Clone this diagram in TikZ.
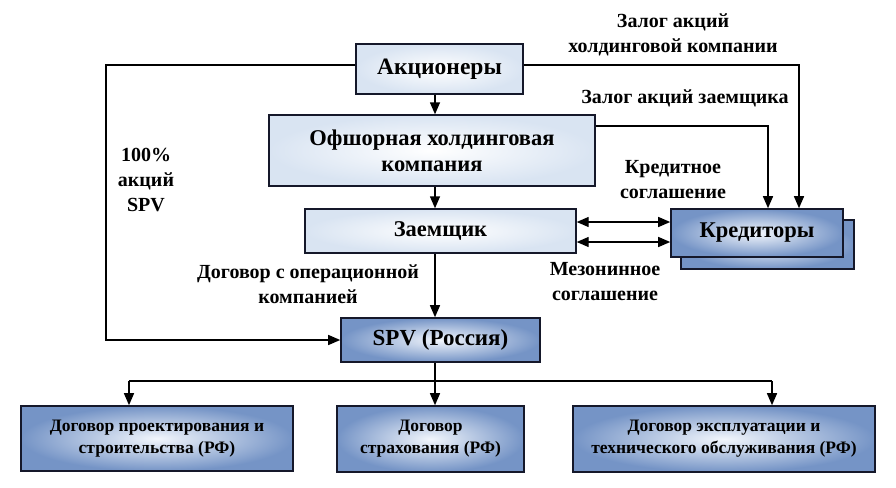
\documentclass[tikz,border=0pt]{standalone}
\usepackage{fontspec}
\setmainfont{Liberation Serif}
\usetikzlibrary{arrows.meta,calc}
\definecolor{bordc}{HTML}{15182A}
\definecolor{lightout}{HTML}{D9E4F2}
\definecolor{blueout}{HTML}{7594C6}
\definecolor{bluein}{HTML}{F2F6FC}
\begin{document}
\begin{tikzpicture}[x=1pt,y=-1pt,
  lbox/.style={draw=bordc,line width=1.4pt,inner sep=0pt,align=center,font=\fontsize{22.5}{26}\selectfont\bfseries,shading=radial,inner color=white,outer color=lightout},
  bbox/.style={draw=bordc,line width=1.6pt,inner sep=0pt,align=center,shading=radial,inner color=bluein,outer color=blueout},
  lab/.style={align=center,inner sep=0pt,font=\fontsize{20}{25}\selectfont\bfseries},
  arr/.style={line width=1.4pt,-{Triangle[length=12pt,width=10pt]}},
  darr/.style={line width=1.4pt,{Triangle[length=12pt,width=10pt]}-{Triangle[length=12pt,width=10pt]}},
  ln/.style={line width=1.4pt}]
\useasboundingbox (0,0) rectangle (896,487);
\fill[white] (0,0) rectangle (896,487);
% boxes
\node[lbox,minimum width=167pt,minimum height=50pt,font=\fontsize{23.5}{26}\selectfont\bfseries] (ak) at (439.5,69) {Акционеры};
\node[lbox,minimum width=326pt,minimum height=71pt] (off) at (432,150.5) {Офшорная холдинговая\\компания};
\node[lbox,minimum width=271pt,minimum height=44pt] (zaem) at (440.5,231) {Заемщик};
\node[bbox,minimum width=173pt,minimum height=49pt] (kreds) at (767.5,244.5) {};
\node[bbox,minimum width=172pt,minimum height=48pt,font=\fontsize{22.5}{25}\selectfont\bfseries] (kred) at (757,233) {Кредиторы};
\node[bbox,minimum width=199pt,minimum height=44pt,font=\fontsize{23}{25}\selectfont\bfseries] (spv) at (440.5,340) {SPV (Россия)};
\node[bbox,minimum width=272pt,minimum height=65pt,font=\fontsize{17.5}{22}\selectfont\bfseries] (b1) at (157,438.5) {Договор проектирования и\\строительства (РФ)};
\node[bbox,minimum width=187pt,minimum height=66pt,font=\fontsize{17.5}{22}\selectfont\bfseries] (b2) at (430.5,439) {Договор\\страхования (РФ)};
\node[bbox,minimum width=302pt,minimum height=66pt,font=\fontsize{17.5}{22}\selectfont\bfseries] (b3) at (724,439) {Договор эксплуатации и\\технического обслуживания (РФ)};
% helper coordinates
\coordinate (vx) at (435,0);
\coordinate (c1) at (106,65);
\coordinate (c2) at (106,340);
\coordinate (c3) at (799,65);
\coordinate (c4) at (768,126);
\coordinate (d1) at (0,222);
\coordinate (d2) at (0,242);
\coordinate (hl) at (129,381);
\coordinate (hr) at (772,381);
% connectors
\draw[arr] (ak.south -| vx) -- (off.north -| vx);
\draw[arr] (off.south -| vx) -- (zaem.north -| vx);
\draw[arr] (zaem.south -| vx) -- (spv.north -| vx);
\draw[arr] (ak.west |- c1) -- (c1) -- (c2) -- (spv.west);
\draw[arr] (ak.east |- c3) -- (c3) -- (c3 |- kred.north);
\draw[arr] (off.east |- c4) -- (c4) -- (c4 |- kred.north);
\draw[darr] (zaem.east |- d1) -- (kred.west |- d1);
\draw[darr] (zaem.east |- d2) -- (kred.west |- d2);
\draw[ln] (hl) -- (hr);
\draw[arr] (spv.south -| vx) -- (b2.north -| vx);
\draw[arr] (hl) -- (hl |- b1.north);
\draw[arr] (hr) -- (hr |- b3.north);
% labels
\node[lab] (l1) at (673,35) {Залог акций\\холдинговой компании};
\node[lab] (l2) at (685,98) {Залог акций заемщика};
\node[lab] (l3) at (673,180) {Кредитное\\соглашение};
\node[lab] (l4) at (605,282) {Мезонинное\\соглашение};
\node[lab] (l5) at (146,180) {100\%\\акций\\SPV};
\node[lab] (l6) at (308,284) {Договор с операционной\\компанией};
\end{tikzpicture}
\end{document}
